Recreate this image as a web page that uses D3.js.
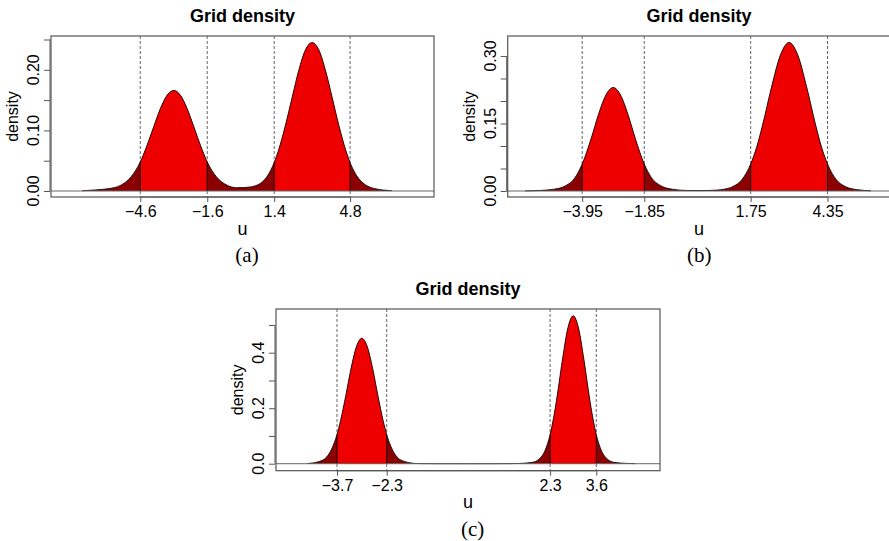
<!DOCTYPE html>
<html>
<head>
<meta charset="utf-8">
<script src="https://cdn.jsdelivr.net/npm/d3@7"></script>
<style>
  html, body { margin: 0; padding: 0; background: #fff; }
  svg text { font-family: "Liberation Sans", Arial, sans-serif; fill: #000; }
  .cap { font-family: "Liberation Serif", "Times New Roman", serif; }
</style>
</head>
<body>
<svg id="chart" width="889" height="541"></svg>
<script>
// ---------- data ----------
// Panel (a)
const uA = [-7.2, -6.6, -6.0, -5.5, -5.0, -4.6, -4.3, -4.0, -3.7, -3.4, -3.1, -2.8, -2.5, -2.2, -1.9, -1.6, -1.2, -0.7, -0.3, 0.0, 0.3, 0.8, 1.1, 1.4, 1.6, 1.9, 2.2, 2.5, 2.8, 3.1, 3.4, 3.7, 4.0, 4.3, 4.6, 4.8, 5.1, 5.5, 5.9, 6.3, 6.66];
const densA = [0.0004, 0.0018, 0.004, 0.009, 0.024, 0.048, 0.075, 0.106, 0.136, 0.158, 0.166, 0.158, 0.136, 0.106, 0.075, 0.048, 0.024, 0.0094, 0.0055, 0.0057, 0.0065, 0.013, 0.025, 0.047, 0.068, 0.108, 0.154, 0.199, 0.233, 0.245, 0.233, 0.199, 0.154, 0.108, 0.068, 0.047, 0.025, 0.010, 0.004, 0.0015, 0.0005];
const cutsA = [-4.6, -1.6, 1.4, 4.8];
const cutLabelsA = ["\u22124.6", "\u22121.6", "1.4", "4.8"];
const yTicksA = [0, 0.05, 0.10, 0.15, 0.20, 0.25];
const yLabelsA = ["0.00", "0.10", "0.20"];

// Panel (b)
const uB = [-5.88, -5.4, -4.9, -4.5, -4.2, -3.95, -3.65, -3.4, -3.15, -2.9, -2.65, -2.4, -2.15, -1.85, -1.6, -1.3, -0.9, -0.4, 0.1, 0.6, 0.85, 1.15, 1.45, 1.75, 1.95, 2.15, 2.45, 2.75, 3.05, 3.35, 3.65, 3.95, 4.15, 4.35, 4.65, 4.95, 5.35, 5.82];
const densB = [0.0003, 0.0012, 0.004, 0.012, 0.029, 0.060, 0.116, 0.170, 0.213, 0.230, 0.213, 0.170, 0.116, 0.060, 0.029, 0.012, 0.004, 0.0012, 0.001, 0.002, 0.004, 0.010, 0.025, 0.060, 0.097, 0.146, 0.2295, 0.301, 0.330, 0.301, 0.2295, 0.146, 0.097, 0.060, 0.025, 0.010, 0.003, 0.0005];
const cutsB = [-3.95, -1.85, 1.75, 4.35];
const cutLabelsB = ["\u22123.95", "\u22121.85", "1.75", "4.35"];
const yTicksB = [0, 0.05, 0.10, 0.15, 0.20, 0.25, 0.30];
const yLabelsB = ["0.00", "0.15", "0.30"];

// Panel (c)
const uC = [-4.54, -4.2, -4.0, -3.85, -3.7, -3.6, -3.45, -3.3, -3.15, -3.0, -2.85, -2.7, -2.55, -2.4, -2.3, -2.15, -2.0, -1.8, -1.43, -1.0, 0.0, 0.8, 1.17, 1.45, 1.8, 2.0, 2.15, 2.3, 2.4, 2.5, 2.65, 2.8, 2.95, 3.1, 3.25, 3.4, 3.5, 3.6, 3.75, 3.9, 4.1, 4.45, 4.69];
const densC = [0.0005, 0.008, 0.023, 0.053, 0.105, 0.155, 0.247, 0.346, 0.423, 0.452, 0.423, 0.346, 0.247, 0.155, 0.105, 0.053, 0.023, 0.008, 0.0005, 0.0001, 0.0, 0.0001, 0.0003, 0.001, 0.005, 0.018, 0.0455, 0.105, 0.167, 0.245, 0.377, 0.489, 0.533, 0.489, 0.377, 0.245, 0.167, 0.105, 0.0455, 0.018, 0.005, 0.001, 0.0003];
const cutsC = [-3.7, -2.3, 2.3, 3.6];
const cutLabelsC = ["\u22123.7", "\u22122.3", "2.3", "3.6"];
const yTicksC = [0, 0.1, 0.2, 0.3, 0.4, 0.5];
const yLabelsC = ["0.0", "0.2", "0.4"];

const titleText = "Grid density";
const xLabel = "u";
const yLabel = "density";

// ---------- layout ----------
const panels = [
  { u: uA, d: densA, cuts: cutsA, cutLabels: cutLabelsA, yTicks: yTicksA, yLabels: yLabelsA,
    box: { l: 51, r: 434, t: 36, b: 197 }, xDom: [-8.6, 8.56], yDom: [-0.0099, 0.2558],
    caption: "(a)", capX: 247 },
  { u: uB, d: densB, cuts: cutsB, cutLabels: cutLabelsB, yTicks: yTicksB, yLabels: yLabelsB,
    box: { l: 507.7, r: 890.5, t: 36, b: 197 }, xDom: [-6.47, 6.48], yDom: [-0.0133, 0.3444],
    caption: "(b)", capX: 699.3 },
  { u: uC, d: densC, cuts: cutsC, cutLabels: cutLabelsC, yTicks: yTicksC, yLabels: yLabelsC,
    box: { l: 276, r: 660, t: 309, b: 470.7 }, xDom: [-5.417, 5.394], yDom: [-0.0252, 0.5575],
    caption: "(c)", capX: 472.7 }
];

const svg = d3.select("#chart");
const RED = "#EE0000", DARK = "#8B0000", AX = "#555";

panels.forEach((p, i) => {
  const x = d3.scaleLinear().domain(p.xDom).range([p.box.l, p.box.r]);
  const y = d3.scaleLinear().domain(p.yDom).range([p.box.b, p.box.t]);
  const pts = p.u.map((v, k) => [v, p.d[k]]);
  const g = svg.append("g");

  // dashed vertical reference lines
  g.selectAll("line.vref").data(p.cuts).enter().append("line")
    .attr("x1", d => x(d)).attr("x2", d => x(d))
    .attr("y1", p.box.t).attr("y2", p.box.b)
    .attr("stroke", "#666").attr("stroke-width", 1).attr("stroke-dasharray", "3,2");

  const area = d3.area().x(d => x(d[0])).y0(y(0)).y1(d => y(d[1])).curve(d3.curveMonotoneX);
  const line = d3.line().x(d => x(d[0])).y(d => y(d[1])).curve(d3.curveMonotoneX);

  // full area in dark red
  g.append("path").attr("d", area(pts)).attr("fill", DARK);

  // inner intervals in red
  const clipId = "clipInner" + i;
  const cp = svg.append("clipPath").attr("id", clipId);
  [[p.cuts[0], p.cuts[1]], [p.cuts[2], p.cuts[3]]].forEach(iv => {
    cp.append("rect").attr("x", x(iv[0])).attr("width", x(iv[1]) - x(iv[0]))
      .attr("y", p.box.t).attr("height", p.box.b - p.box.t);
  });
  g.append("path").attr("d", area(pts)).attr("fill", RED).attr("clip-path", `url(#${clipId})`);

  // black separators at cuts, clipped to the area
  const areaClip = "clipArea" + i;
  svg.append("clipPath").attr("id", areaClip).append("path").attr("d", area(pts));
  g.selectAll("line.sep").data(p.cuts).enter().append("line")
    .attr("x1", d => x(d)).attr("x2", d => x(d))
    .attr("y1", y(0)).attr("y2", p.box.t)
    .attr("stroke", "#000").attr("stroke-width", 0.9).attr("clip-path", `url(#${areaClip})`);

  // curve outline
  g.append("path").attr("d", line(pts)).attr("fill", "none").attr("stroke", "#111").attr("stroke-width", 0.9);

  // horizontal zero line
  g.append("line").attr("x1", p.box.l).attr("x2", p.box.r).attr("y1", y(0)).attr("y2", y(0))
    .attr("stroke", "#666").attr("stroke-width", 1);

  // box
  g.append("rect").attr("x", p.box.l).attr("y", p.box.t)
    .attr("width", p.box.r - p.box.l).attr("height", p.box.b - p.box.t)
    .attr("fill", "none").attr("stroke", AX).attr("stroke-width", 1.2);

  // x axis
  const xAxis = d3.axisBottom(x).tickValues(p.cuts).tickFormat((d, k) => p.cutLabels[k])
    .tickSizeOuter(0).tickSizeInner(5).tickPadding(3);
  const xg = g.append("g").attr("transform", `translate(0,${p.box.b})`).call(xAxis);
  xg.select(".domain").attr("stroke", AX).attr("d", `M${x(p.cuts[0])},0H${x(p.cuts[3])}`);
  xg.selectAll(".tick line").attr("stroke", AX);
  xg.selectAll(".tick text").attr("font-size", 16).attr("font-family", "Liberation Sans, Arial, sans-serif")
    .attr("fill", "#000").attr("dy", null).attr("y", 20);

  // y axis
  const yAxis = d3.axisLeft(y).tickValues(p.yTicks).tickFormat(() => "").tickSizeOuter(0).tickSizeInner(6);
  const yg = g.append("g").attr("transform", `translate(${p.box.l - 1},0)`).call(yAxis);
  yg.select(".domain").attr("stroke", AX)
    .attr("d", `M0,${y(p.yTicks[0])}V${y(p.yTicks[p.yTicks.length - 1])}`);
  yg.selectAll(".tick line").attr("stroke", AX);
  g.selectAll("text.ylab").data(p.yLabels).enter().append("text")
    .attr("transform", d => `translate(${p.box.l - 12},${y(+d)}) rotate(-90)`)
    .attr("text-anchor", "middle").attr("font-size", 16).text(d => d);

  // axis titles
  g.append("text").attr("x", (p.box.l + Math.min(p.box.r, 890.5)) / 2).attr("y", p.box.b + 37.5)
    .attr("text-anchor", "middle").attr("font-size", 18).text(xLabel);
  g.append("text").attr("transform", `translate(${p.box.l - 33},${(p.box.t + p.box.b) / 2}) rotate(-90)`)
    .attr("text-anchor", "middle").attr("font-size", 16).text(yLabel);

  // title
  g.append("text").attr("x", (p.box.l + p.box.r) / 2).attr("y", p.box.t - 14)
    .attr("text-anchor", "middle").attr("font-size", 18).attr("font-weight", "bold").text(titleText);

  // caption
  g.append("text").attr("class", "cap").attr("x", p.capX).attr("y", p.box.b + 65)
    .attr("text-anchor", "middle").attr("font-size", 21).text(p.caption);
});
</script>
</body>
</html>
